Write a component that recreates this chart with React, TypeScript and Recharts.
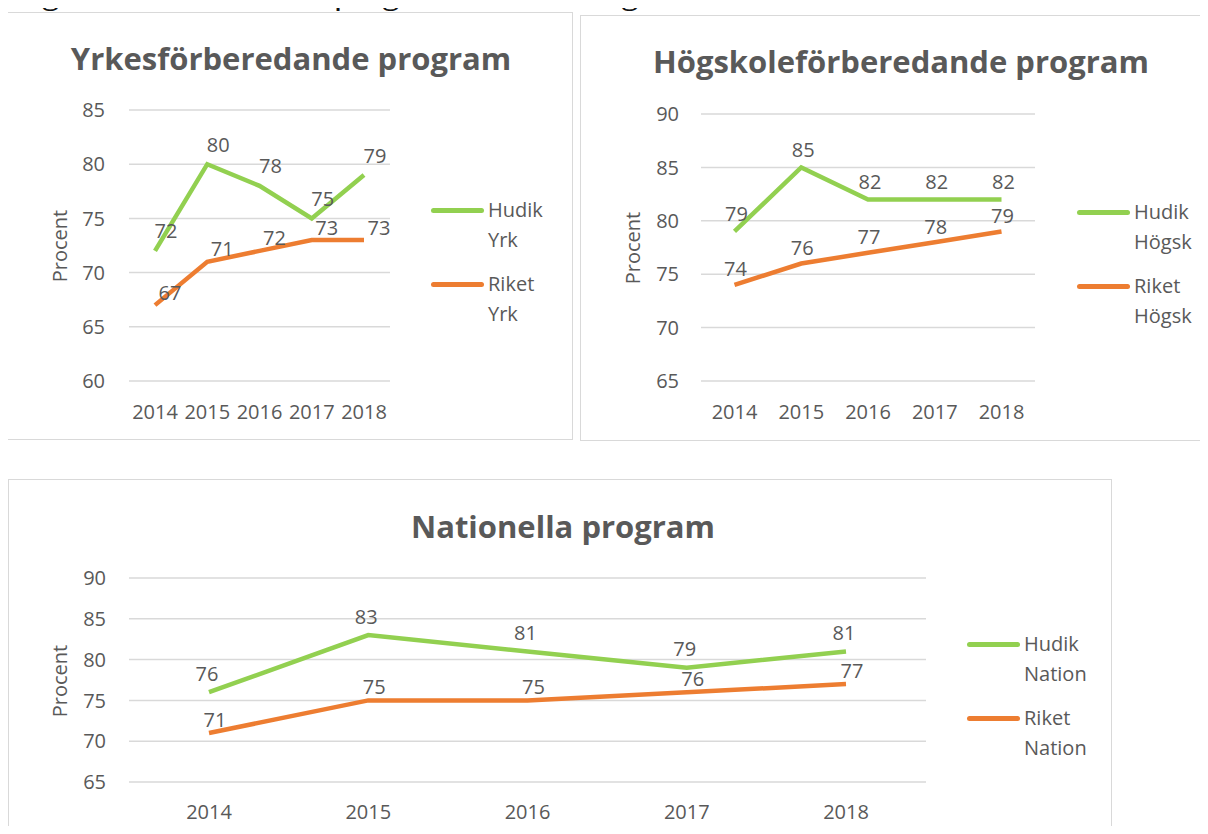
import React from 'react';
import { LineChart, Line, XAxis, YAxis, CartesianGrid, Legend, LabelList } from 'recharts';

const years = ['2014', '2015', '2016', '2017', '2018'];

// Yrkesförberedande
const yrkHudik = [72, 80, 78, 75, 79];
const yrkRiket = [67, 71, 72, 73, 73];
const yrkTicks = [60, 65, 70, 75, 80, 85];

// Högskoleförberedande
const hogHudik = [79, 85, 82, 82, 82];
const hogRiket = [74, 76, 77, 78, 79];
const hogTicks = [65, 70, 75, 80, 85, 90];

// Nationella
const natHudik = [76, 83, 81, 79, 81];
const natRiket = [71, 75, 75, 76, 77];
const natTicks = [65, 70, 75, 80, 85, 90];

const GREEN = '#92d050';
const ORANGE = '#ed7d31';
const TEXT = '#595959';
const GRID = '#d9d9d9';
const FONT = '"Open Sans", "Noto Sans", sans-serif';

const toRows = (a: number[], b: number[]) =>
  years.map((year, i) => ({ year, hudik: a[i], riket: b[i] }));

const makeLabel = (dx: number, dy: number) => (props: any) => (
  <text
    x={props.x + dx}
    y={props.y + dy}
    textAnchor="middle"
    dominantBaseline="central"
    fill={TEXT}
    fontSize={20}
    fontFamily={FONT}
  >
    {props.value}
  </text>
);

const LegendBox = ({ payload }: any) => (
  <div style={{ fontFamily: FONT }}>
    {(payload || []).map((entry: any) => {
      const [first, second] = String(entry.value).split(' ');
      return (
        <div key={entry.value} style={{ position: 'relative', height: 74 }}>
          <div
            style={{
              position: 'absolute',
              left: 0,
              top: 12.5,
              width: 53,
              height: 5,
              borderRadius: 3,
              background: entry.color,
            }}
          />
          <div style={{ position: 'absolute', left: 57, top: 0, lineHeight: '30px', fontSize: 20, color: TEXT, whiteSpace: 'nowrap' }}>
            {first}
            <br />
            {second}
          </div>
        </div>
      );
    })}
  </div>
);

interface PanelProps {
  box: { left: number; top: number; w: number; h: number };
  title: string;
  titleX: number;
  titleY: number;
  rows: any[];
  suffix: string;
  ticks: number[];
  plot: { left: number; right: number; top: number; bottom: number };
  pad: number;
  tickGap: number;
  xGap: number;
  legendX: number;
  legendY: number;
  yLabelX: number;
  yLabelY: number;
  hudikOff: [number, number];
  riketOff: [number, number];
}

const Panel = (p: PanelProps) => {
  const { box, plot } = p;
  return (
    <div
      style={{
        position: 'absolute',
        left: box.left,
        top: box.top,
        width: box.w,
        height: box.h,
        border: `1px solid ${GRID}`,
        boxSizing: 'border-box',
        background: '#fff',
      }}
    >
      <div
        style={{
          position: 'absolute',
          left: p.titleX,
          top: p.titleY,
          transform: 'translate(-50%, -50%)',
          whiteSpace: 'nowrap',
          fontFamily: FONT,
          fontWeight: 700,
          fontSize: 31,
          color: TEXT,
        }}
      >
        {p.title}
      </div>
      <div
        style={{
          position: 'absolute',
          left: p.yLabelX,
          top: p.yLabelY,
          transform: 'translate(-50%, -50%) rotate(-90deg)',
          whiteSpace: 'nowrap',
          fontFamily: FONT,
          fontSize: 20,
          color: TEXT,
        }}
      >
        Procent
      </div>
      <div style={{ position: 'absolute', left: -1, top: -1 }}>
        <LineChart
          width={box.w}
          height={box.h}
          data={p.rows}
          margin={{ top: plot.top, right: box.w - plot.right, bottom: box.h - plot.bottom - 30, left: 0 }}
        >
          <CartesianGrid vertical={false} stroke={GRID} strokeWidth={1.5} />
          <XAxis
            dataKey="year"
            height={30}
            axisLine={false}
            tickLine={false}
            tickSize={0}
            tickMargin={p.xGap}
            padding={{ left: p.pad, right: p.pad }}
            tick={{ fill: TEXT, fontSize: 20, fontFamily: FONT }}
            interval={0}
          />
          <YAxis
            width={plot.left}
            domain={[p.ticks[0], p.ticks[p.ticks.length - 1]]}
            ticks={p.ticks}
            axisLine={false}
            tickLine={false}
            tickSize={0}
            tickMargin={p.tickGap}
            tick={{ fill: TEXT, fontSize: 20, fontFamily: FONT }}
          />
          <Legend
            layout="vertical"
            align="center"
            verticalAlign="middle"
            wrapperStyle={{ left: p.legendX, top: p.legendY - 15, width: 150, height: 150 }}
            content={(lp: any) => <LegendBox payload={lp.payload} />}
          />
          <Line
            type="linear"
            dataKey="hudik"
            name={`Hudik ${p.suffix}`}
            stroke={GREEN}
            strokeWidth={4.5}
            dot={false}
            isAnimationActive={false}
          >
            <LabelList dataKey="hudik" content={makeLabel(p.hudikOff[0], p.hudikOff[1])} />
          </Line>
          <Line
            type="linear"
            dataKey="riket"
            name={`Riket ${p.suffix}`}
            stroke={ORANGE}
            strokeWidth={4.5}
            dot={false}
            isAnimationActive={false}
          >
            <LabelList dataKey="riket" content={makeLabel(p.riketOff[0], p.riketOff[1])} />
          </Line>
        </LineChart>
      </div>
    </div>
  );
};

export default function App() {
  return (
    <div
      style={{
        position: 'relative',
        width: 1208,
        height: 834,
        margin: -8,
        overflow: 'hidden',
        background: '#fff',
        fontFamily: FONT,
      }}
    >
      <svg style={{ position: 'absolute', left: 0, top: 0 }} width={1208} height={14}>
        <text
          x={-1}
          y={7}
          fontSize={24}
          fontFamily='Lato, sans-serif'
          fill="#111"
          textLength={1096}
          lengthAdjust="spacingAndGlyphs"
        >
          Högskoleförberedande program och som tog examen inom tre år 2014-2018
        </text>
      </svg>

      <Panel
        box={{ left: 7, top: 12, w: 566, h: 428 }}
        title="Yrkesförberedande program"
        titleX={283}
        titleY={45}
        rows={toRows(yrkHudik, yrkRiket)}
        suffix="Yrk"
        ticks={yrkTicks}
        plot={{ left: 122, right: 383, top: 98, bottom: 369 }}
        pad={26}
        tickGap={24}
        xGap={24}
        legendX={424}
        legendY={198}
        yLabelX={51}
        yLabelY={233}
        hudikOff={[11, -20]}
        riketOff={[15, -13]}
      />

      <Panel
        box={{ left: 580, top: 15, w: 640, h: 426 }}
        title="Högskoleförberedande program"
        titleX={320}
        titleY={45}
        rows={toRows(hogHudik, hogRiket)}
        suffix="Högsk"
        ticks={hogTicks}
        plot={{ left: 121, right: 455, top: 99, bottom: 366 }}
        pad={33.5}
        tickGap={22}
        xGap={24}
        legendX={497}
        legendY={197}
        yLabelX={51}
        yLabelY={232}
        hudikOff={[2, -18]}
        riketOff={[1, -16]}
      />

      <Panel
        box={{ left: 8, top: 479, w: 1104, h: 380 }}
        title="Nationella program"
        titleX={554}
        titleY={46}
        rows={toRows(natHudik, natRiket)}
        suffix="Nation"
        ticks={natTicks}
        plot={{ left: 121, right: 918, top: 99, bottom: 303 }}
        pad={80}
        tickGap={23}
        xGap={23}
        legendX={959}
        legendY={165}
        yLabelX={50}
        yLabelY={201}
        hudikOff={[-2, -19]}
        riketOff={[6, -14]}
      />
    </div>
  );
}
